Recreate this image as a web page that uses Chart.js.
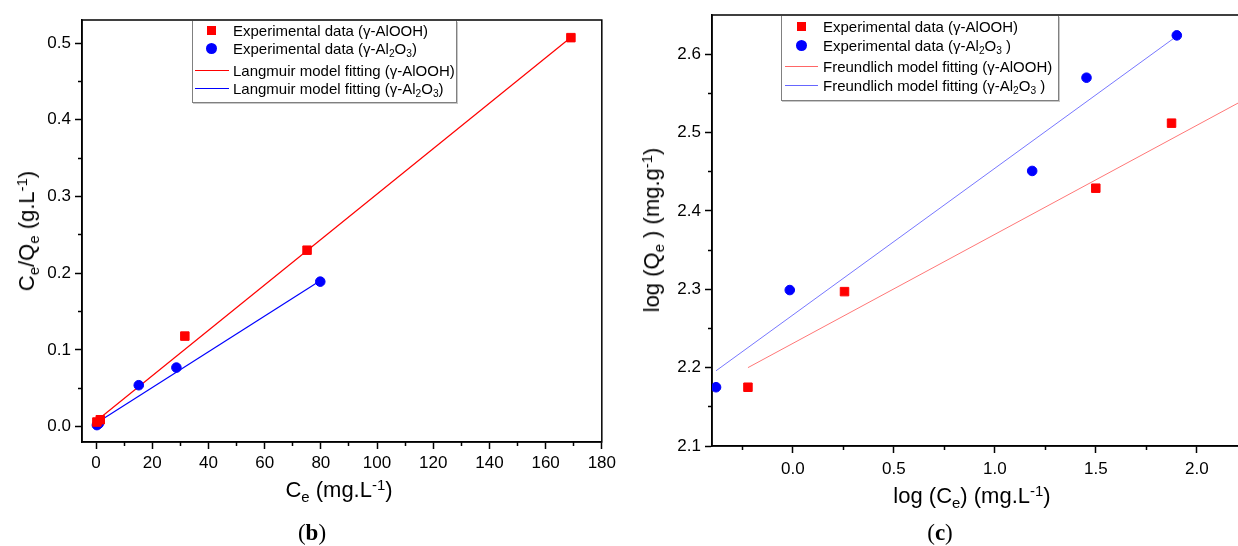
<!DOCTYPE html>
<html><head><meta charset="utf-8">
<script src="https://cdn.jsdelivr.net/npm/chart.js@4.4.0/dist/chart.umd.min.js"></script>
<style>
html,body{margin:0;padding:0;background:#fff;overflow:hidden;width:1238px;height:546px;}
#wrap{position:relative;width:1238px;height:546px;overflow:hidden;font-family:"Liberation Sans",Arial,sans-serif;color:#000;}
.cbox{position:absolute;top:0;height:546px;}
.lbl{position:absolute;white-space:nowrap;transform:translate(-50%,-50%);font-size:22px;line-height:1;}
.rot{transform:translate(-50%,-50%) rotate(-90deg);}
sub,sup{font-size:0.68em;line-height:0;position:relative;vertical-align:baseline;}
sub{top:0.32em;} sup{top:-0.48em;}
.cap{font-family:"Liberation Serif","Times New Roman",serif;font-size:23px;}
.legend{position:absolute;background:#fff;border:1px solid #808080;border-top:none;box-shadow:1px 1px 0 #c8c8c8;font-size:15px;}
.row{position:absolute;left:0;height:18px;line-height:18px;white-space:nowrap;width:100%;}
.row .t{position:absolute;top:0;}
.sq{position:absolute;width:9px;height:9px;top:4px;background:#ff0000;}
.ci{position:absolute;width:11px;height:11px;top:3px;border-radius:50%;background:#0000ff;}
.ln{position:absolute;height:0;top:8px;border-top-width:1.5px;border-top-style:solid;}
</style>
</head>
<body>
<div id="wrap">
  <div class="cbox" style="left:0;width:620px;"><canvas id="cb" width="620" height="546"></canvas></div>
  <div class="cbox" style="left:620px;width:650px;"><canvas id="cc" width="650" height="546"></canvas></div>

  <div class="lbl rot" style="left:27px;top:231px;">C<sub>e</sub>/Q<sub>e</sub> (g.L<sup>-1</sup>)</div>
  <div class="lbl" style="left:339px;top:490px;">C<sub>e</sub> (mg.L<sup>-1</sup>)</div>
  <div class="lbl cap" style="left:312px;top:532px;">(<b>b</b>)</div>

  <div class="lbl rot" style="left:652px;top:230px;">log (Q<sub>e</sub> ) (mg.g<sup>-1</sup>)</div>
  <div class="lbl" style="left:972px;top:496px;">log (C<sub>e</sub>) (mg.L<sup>-1</sup>)</div>
  <div class="lbl cap" style="left:940px;top:532px;">(<b>c</b>)</div>

  <div class="legend" style="left:192px;top:21px;width:263px;height:81px;">
    <div class="row" style="top:1px;"><span class="sq" style="left:14px;"></span><span class="t" style="left:40px;">Experimental data (γ-AlOOH)</span></div>
    <div class="row" style="top:19px;"><span class="ci" style="left:13px;"></span><span class="t" style="left:40px;">Experimental data (γ-Al<sub>2</sub>O<sub>3</sub>)</span></div>
    <div class="row" style="top:41px;"><span class="ln" style="left:2px;width:34px;border-top-color:#ff0000;"></span><span class="t" style="left:40px;">Langmuir model fitting (γ-AlOOH)</span></div>
    <div class="row" style="top:59px;"><span class="ln" style="left:2px;width:34px;border-top-color:#0000ff;"></span><span class="t" style="left:40px;">Langmuir model fitting (γ-Al<sub>2</sub>O<sub>3</sub>)</span></div>
  </div>

  <div class="legend" style="left:781px;top:16px;width:276px;height:84px;">
    <div class="row" style="top:2px;"><span class="sq" style="left:15px;"></span><span class="t" style="left:41px;">Experimental data (γ-AlOOH)</span></div>
    <div class="row" style="top:21px;"><span class="ci" style="left:14px;"></span><span class="t" style="left:41px;">Experimental data (γ-Al<sub>2</sub>O<sub>3</sub> )</span></div>
    <div class="row" style="top:42px;"><span class="ln" style="left:3px;width:33px;border-top-color:#ff6666;"></span><span class="t" style="left:41px;">Freundlich model fitting (γ-AlOOH)</span></div>
    <div class="row" style="top:61px;"><span class="ln" style="left:3px;width:33px;border-top-color:#6666ff;"></span><span class="t" style="left:41px;">Freundlich model fitting (γ-Al<sub>2</sub>O<sub>3</sub> )</span></div>
  </div>
</div>
<script>
// ---------- Panel (b): Langmuir ----------
const ceAlOOH      = [0.3, 1.5, 31.6, 75.1, 169.0];
const ceQeAlOOH    = [0.006, 0.009, 0.118, 0.230, 0.507];
const ceAl2O3      = [0.3, 1.0, 15.2, 28.6, 79.8];
const ceQeAl2O3    = [0.002, 0.004, 0.054, 0.077, 0.189];
const langFitAlOOHX = [0.3, 168.5];
const langFitAlOOHY = [0.008, 0.506];
const langFitAl2O3X = [0.3, 79.2];
const langFitAl2O3Y = [0.005, 0.189];
const xTicksB      = [0, 20, 40, 60, 80, 100, 120, 140, 160, 180];
const xMinorB      = [10, 30, 50, 70, 90, 110, 130, 150, 170];
const yTicksB      = [0.0, 0.1, 0.2, 0.3, 0.4, 0.5];
const yMinorB      = [0.05, 0.15, 0.25, 0.35, 0.45];

// ---------- Panel (c): Freundlich ----------
const logCeAlOOH   = [-0.222, 0.256, 1.500, 1.875];
const logQeAlOOH   = [2.175, 2.297, 2.429, 2.512];
const logCeAl2O3   = [-0.380, -0.015, 1.185, 1.454, 1.901];
const logQeAl2O3   = [2.175, 2.299, 2.451, 2.570, 2.624];
const frFitAlOOHX  = [-0.222, 2.25];
const frFitAlOOHY  = [2.200, 2.544];
const frFitAl2O3X  = [-0.380, 1.890];
const frFitAl2O3Y  = [2.196, 2.621];
const xTicksC      = [0.0, 0.5, 1.0, 1.5, 2.0];
const xMinorC      = [-0.25, 0.25, 0.75, 1.25, 1.75, 2.25];
const yTicksC      = [2.1, 2.2, 2.3, 2.4, 2.5, 2.6];
const yMinorC      = [2.15, 2.25, 2.35, 2.45, 2.55];

const zip = (xs, ys) => xs.map((x, i) => ({x: x, y: ys[i]}));
const tickFont = {family: '"Liberation Sans", Arial, sans-serif', size: 17};

const boxPlugin = {
  id: 'box',
  beforeDatasetsDraw(chart) {
    const {ctx, chartArea: a} = chart;
    ctx.save();
    ctx.strokeStyle = '#000';
    ctx.lineWidth = 1.5;
    ctx.strokeRect(a.left, a.top, a.right - a.left, a.bottom - a.top);
    ctx.restore();
  }
};

function axes(p) {
  const setTicks = arr => s => { s.ticks = arr.map(v => ({value: v})); };
  return {
    x: {
      type: 'linear', position: 'bottom', weight: 1, min: p.xmin, max: p.xmax,
      afterBuildTicks: setTicks(p.xT),
      afterFit: s => { s.height = p.xh; },
      ticks: {font: tickFont, color: '#000', padding: p.xpad, callback: p.xfmt, maxRotation: 0, autoSkip: false},
      grid: {drawOnChartArea: false, drawTicks: true, tickLength: 7, tickWidth: 1.5, tickColor: '#000'},
      border: {display: true, color: '#000', width: 1.5}
    },
    xm: {
      type: 'linear', position: 'bottom', weight: 0, min: p.xmin, max: p.xmax,
      afterBuildTicks: setTicks(p.xM),
      afterFit: s => { s.height = 0; },
      ticks: {display: false, autoSkip: false},
      grid: {drawOnChartArea: false, drawTicks: true, tickLength: 4, tickWidth: 1.5, tickColor: '#000'},
      border: {display: false}
    },
    y: {
      type: 'linear', position: 'left', weight: 1, min: p.ymin, max: p.ymax,
      afterBuildTicks: setTicks(p.yT),
      afterFit: s => { s.width = p.yw; },
      ticks: {font: tickFont, color: '#000', padding: 4, callback: v => v.toFixed(1), autoSkip: false},
      grid: {drawOnChartArea: false, drawTicks: true, tickLength: 7, tickWidth: 1.5, tickColor: '#000'},
      border: {display: true, color: '#000', width: 1.5}
    },
    ym: {
      type: 'linear', position: 'left', weight: 0, min: p.ymin, max: p.ymax,
      afterBuildTicks: setTicks(p.yM),
      afterFit: s => { s.width = 0; },
      ticks: {display: false, autoSkip: false},
      grid: {drawOnChartArea: false, drawTicks: true, tickLength: 4, tickWidth: 1.5, tickColor: '#000'},
      border: {display: false}
    }
  };
}

function pts(label, xs, ys, color, style, r) {
  return {label, data: zip(xs, ys), xAxisID: 'x', yAxisID: 'y', order: 0,
    pointStyle: style, pointRadius: r, backgroundColor: color, borderColor: color, borderWidth: 1, showLine: false};
}
function fit(label, xs, ys, color, w) {
  return {label, data: zip(xs, ys), xAxisID: 'x', yAxisID: 'y', order: 1,
    showLine: true, pointRadius: 0, borderColor: color, borderWidth: w, fill: false};
}

const common = {
  responsive: false, animation: false, devicePixelRatio: 1,
  plugins: {legend: {display: false}, tooltip: {enabled: false}}
};

new Chart(document.getElementById('cb'), {
  type: 'scatter',
  data: {datasets: [
    pts('Experimental data (γ-AlOOH)', ceAlOOH, ceQeAlOOH, '#ff0000', 'rect', 6),
    pts('Experimental data (γ-Al2O3)', ceAl2O3, ceQeAl2O3, '#0000ff', 'circle', 4.8),
    fit('Langmuir model fitting (γ-AlOOH)', langFitAlOOHX, langFitAlOOHY, '#ff0000', 1.2),
    fit('Langmuir model fitting (γ-Al2O3)', langFitAl2O3X, langFitAl2O3Y, '#0000ff', 1.2)
  ]},
  options: Object.assign({}, common, {
    layout: {padding: {left: 0, right: 13, top: 20, bottom: 0}},
    scales: axes({xmin: -5, xmax: 180, ymin: -0.02, ymax: 0.53, xT: xTicksB, xM: xMinorB, yT: yTicksB, yM: yMinorB,
      xh: 104, yw: 82, xpad: 4, xfmt: v => String(v)})
  }),
  plugins: [boxPlugin]
});

new Chart(document.getElementById('cc'), {
  type: 'scatter',
  data: {datasets: [
    pts('Experimental data (γ-AlOOH)', logCeAlOOH, logQeAlOOH, '#ff0000', 'rect', 6),
    pts('Experimental data (γ-Al2O3)', logCeAl2O3, logQeAl2O3, '#0000ff', 'circle', 4.8),
    fit('Freundlich model fitting (γ-AlOOH)', frFitAlOOHX, frFitAlOOHY, '#ff7777', 1),
    fit('Freundlich model fitting (γ-Al2O3)', frFitAl2O3X, frFitAl2O3Y, '#7777ff', 1)
  ]},
  options: Object.assign({}, common, {
    layout: {padding: {left: 0, right: 12.6, top: 15, bottom: 0}},
    scales: axes({xmin: -0.4, xmax: 2.3, ymin: 2.1, ymax: 2.65, xT: xTicksC, xM: xMinorC, yT: yTicksC, yM: yMinorC,
      xh: 100, yw: 92, xpad: 6, xfmt: v => v.toFixed(1)})
  }),
  plugins: [boxPlugin]
});
</script>
</body></html>
